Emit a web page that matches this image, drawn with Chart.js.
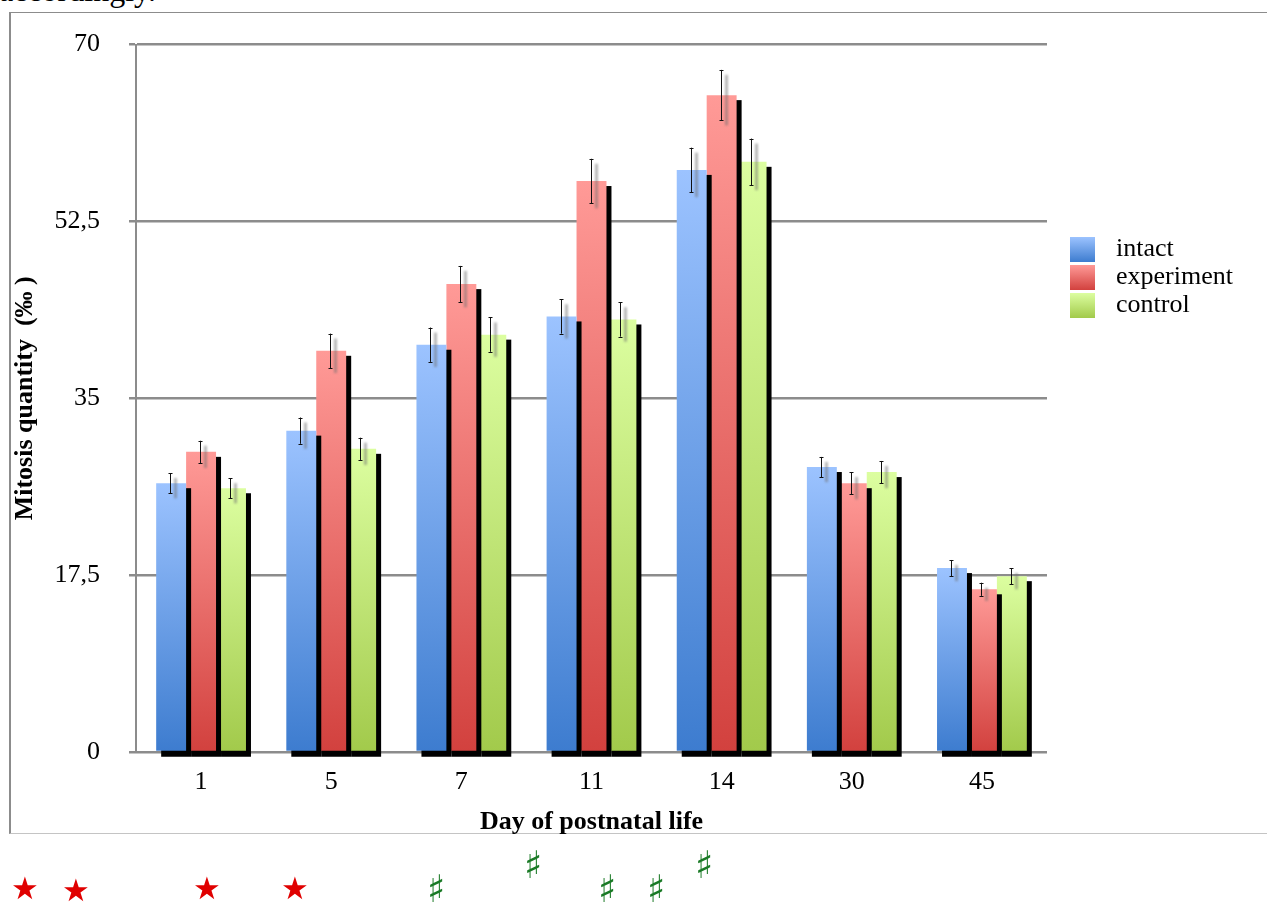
<!DOCTYPE html>
<html>
<head>
<meta charset="utf-8">
<script src="https://cdn.jsdelivr.net/npm/chart.js@4.4.1/dist/chart.umd.min.js"></script>
<style>
  html, body { margin: 0; padding: 0; background: #fff; }
  body { width: 1267px; height: 902px; position: relative; overflow: hidden; font-family: 'Liberation Serif', serif; }
  #topText { position: absolute; left: -1px; top: -26px; font-size: 32px; line-height: 32px; white-space: nowrap; color: #000; }
  #frame { position: absolute; left: 9px; top: 12px; width: 1300px; height: 820px;
           border-left: 2px solid #8c8c8c; border-top: 1px solid #8c8c8c; border-bottom: 1px solid #c4c4c4; }
  #chart { position: absolute; left: 0; top: 0; }
  .mark { position: absolute; font-family: 'DejaVu Sans', sans-serif; line-height: 1; transform: translate(-50%, -50%); }
  .star { color: #e00000; font-size: 31px; }
  .sharp { color: #1a7a26; font-size: 38px; }
</style>
</head>
<body>
<div id="topText">accordingly.</div>
<div id="frame"></div>
<canvas id="chart" width="1267" height="902"></canvas>

<span class="mark star" style="left:25px; top:888px">★</span>
<span class="mark star" style="left:76px; top:890px">★</span>
<span class="mark star" style="left:207px; top:888px">★</span>
<span class="mark star" style="left:295px; top:888px">★</span>
<span class="mark sharp" style="left:436px; top:889px">♯</span>
<span class="mark sharp" style="left:533px; top:865px">♯</span>
<span class="mark sharp" style="left:607px; top:889px">♯</span>
<span class="mark sharp" style="left:656px; top:889px">♯</span>
<span class="mark sharp" style="left:704px; top:865px">♯</span>

<script>
// day of postnatal life
const days = ['1', '5', '7', '11', '14', '30', '45'];

// mitosis quantity, per mille
const intact     = [26.6, 31.8, 40.3, 43.1, 57.6, 28.2, 18.2];
const experiment = [29.7, 39.7, 46.3, 56.5, 65.0, 26.6, 16.1];
const control    = [26.1, 30.0, 41.3, 42.8, 58.4, 27.7, 17.4];

// error bars (+/-)
const intactErr     = [1.0, 1.3, 1.7, 1.7, 2.2, 1.0, 0.8];
const experimentErr = [1.1, 1.7, 1.8, 2.2, 2.5, 1.1, 0.65];
const controlErr    = [1.0, 1.1, 1.7, 1.7, 2.3, 1.1, 0.8];

const yTicks = [0, 17.5, 35, 52.5, 70];

const serif = 'Liberation Serif';


function barGradient(top, bottom) {
    return function (c) {
        const chart = c.chart;
        if (!chart.chartArea || c.type !== 'data') return bottom;
        const ys = chart.scales.y;
        const y0 = ys.getPixelForValue(c.raw);
        const y1 = ys.getPixelForValue(0);
        const g = chart.ctx.createLinearGradient(0, y0, 0, y1);
        g.addColorStop(0, top);
        g.addColorStop(1, bottom);
        return g;
    };
}

// black drop shadow behind each bar (datasets are painted last to first,
// so each shadow lands on top of the bar to its right)
const barShadow = {
    id: 'barShadow',
    beforeDatasetDraw(chart, args) {
        const ctx = chart.ctx;
        ctx.save();
        ctx.fillStyle = '#000';
        args.meta.data.forEach(bar => {
            const w = bar.width;
            ctx.fillRect(bar.x - w / 2 + 5, bar.y + 5, w, bar.base - bar.y + 1);
        });
        ctx.restore();
    }
};

const errorBars = {
    id: 'errorBars',
    afterDatasetsDraw(chart) {
        const ctx = chart.ctx;
        const ys = chart.scales.y;
        chart.data.datasets.forEach((ds, i) => {
            const meta = chart.getDatasetMeta(i);
            meta.data.forEach((bar, j) => {
                const v = ds.data[j], e = ds.errors[j];
                const yHi = ys.getPixelForValue(v + e);
                const yLo = ys.getPixelForValue(v - e);
                const x = Math.round(bar.x) - 0.5;

                // soft grey copy
                ctx.save();
                ctx.filter = 'blur(1px)';
                ctx.strokeStyle = 'rgba(110,110,110,0.5)';
                ctx.lineWidth = 3;
                ctx.beginPath();
                ctx.moveTo(x + 5, yHi + 5);
                ctx.lineTo(x + 5, yLo + 5);
                ctx.stroke();
                ctx.restore();

                ctx.save();
                ctx.strokeStyle = '#111';
                ctx.lineWidth = 1;
                ctx.beginPath();
                ctx.moveTo(x, yHi);
                ctx.lineTo(x, yLo);
                ctx.moveTo(x - 2, Math.round(yHi) + 0.5);
                ctx.lineTo(x + 2, Math.round(yHi) + 0.5);
                ctx.moveTo(x - 2, Math.round(yLo) + 0.5);
                ctx.lineTo(x + 2, Math.round(yLo) + 0.5);
                ctx.stroke();
                ctx.restore();
            });
        });
    }
};

const sideLegend = {
    id: 'sideLegend',
    afterDraw(chart) {
        const ctx = chart.ctx;
        ctx.save();
        chart.data.datasets.forEach((ds, i) => {
            const top = 237 + i * 28;
            const g = ctx.createLinearGradient(0, top, 0, top + 25);
            g.addColorStop(0, ds.topColor);
            g.addColorStop(1, ds.bottomColor);
            ctx.fillStyle = g;
            ctx.fillRect(1070, top, 25, 25);
            ctx.fillStyle = '#000';
            ctx.font = '26px "' + serif + '"';
            ctx.textBaseline = 'middle';
            ctx.textAlign = 'left';
            ctx.fillText(ds.label, 1116, top + 12.5);
        });
        ctx.restore();
    }
};


function grafico() {
    const ctx = document.getElementById('chart');
    const myChart = new Chart(ctx, {
        type: 'bar',
        data: {
            labels: days,
            datasets: [{
                label: 'intact',
                data: intact,
                errors: intactErr,
                topColor: '#9cc3ff',
                bottomColor: '#3d7ccf',
                backgroundColor: barGradient('#9cc3ff', '#3d7ccf')
            }, {
                label: 'experiment',
                data: experiment,
                errors: experimentErr,
                topColor: '#ff9a97',
                bottomColor: '#d2413e',
                backgroundColor: barGradient('#ff9a97', '#d2413e')
            }, {
                label: 'control',
                data: control,
                errors: controlErr,
                topColor: '#dcfea0',
                bottomColor: '#a2ca4b',
                backgroundColor: barGradient('#dcfea0', '#a2ca4b')
            }]
        },
        options: {
            responsive: false,
            animation: false,
            devicePixelRatio: 1,
            events: [],
            layout: { padding: { left: 10, right: 220, top: 41, bottom: 64 } },
            datasets: {
                bar: { categoryPercentage: 0.69, barPercentage: 1, borderWidth: 0 }
            },
            plugins: {
                legend: { display: false },
                tooltip: { enabled: false }
            },
            scales: {
                x: {
                    grid: { display: false },
                    border: { display: false },
                    ticks: { color: '#000', padding: 7, font: { family: serif, size: 26 } },
                    title: {
                        display: true,
                        text: 'Day of postnatal life',
                        color: '#000',
                        padding: { top: 0, bottom: 0 },
                        font: { family: serif, size: 26, weight: 'bold' }
                    },
                    afterFit(s) { s.height = 86; }
                },
                y: {
                    min: 0,
                    max: 70,
                    afterBuildTicks(s) { s.ticks = yTicks.map(v => ({ value: v })); },
                    grid: { color: '#8c8c8c', lineWidth: 2.5, tickLength: 7 },
                    border: { color: '#8c8c8c', width: 2 },
                    ticks: {
                        color: '#000',
                        padding: 29,
                        font: { family: serif, size: 26 },
                        callback: v => String(v).replace('.', ',')
                    },
                    title: {
                        display: true,
                        text: 'Mitosis quantity  (‰ )',
                        color: '#000',
                        padding: { top: 0, bottom: 0 },
                        font: { family: serif, size: 26, weight: 'bold' }
                    },
                    afterFit(s) { s.width = 126; }
                }
            }
        },
        plugins: [barShadow, errorBars, sideLegend]
    });
}

grafico();
</script>
</body>
</html>
